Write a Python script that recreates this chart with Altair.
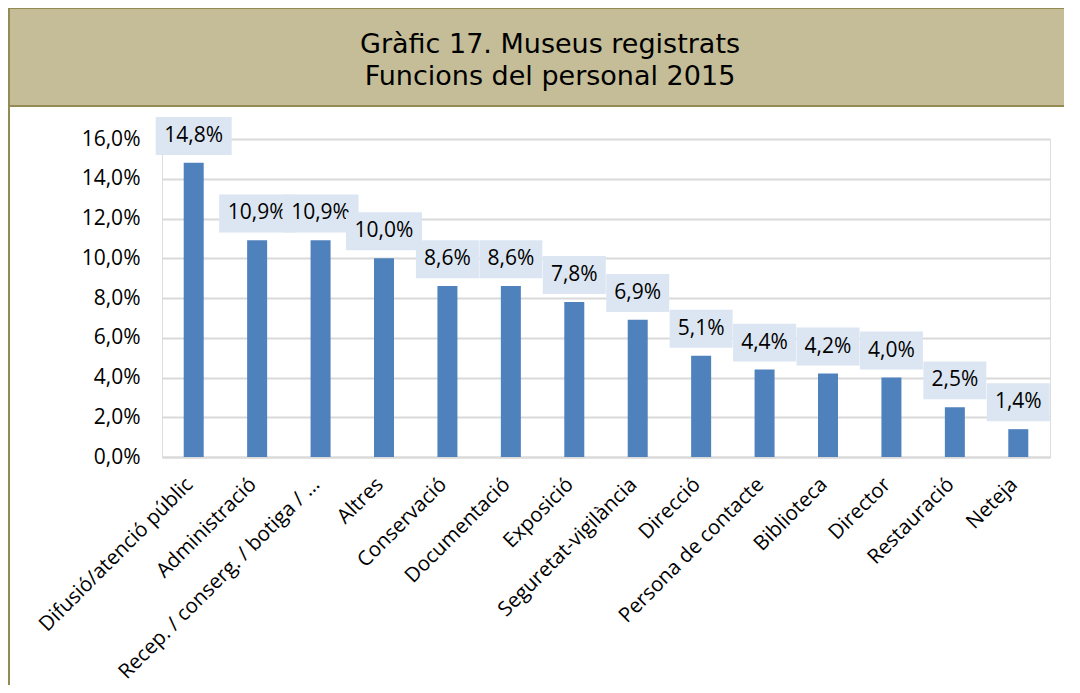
import altair as alt
import pandas as pd

categories = ["Difusió/atenció públic", "Administració", "Recep. / conserg. / botiga / …",
              "Altres", "Conservació", "Documentació", "Exposició", "Seguretat-vigilància",
              "Direcció", "Persona de contacte", "Biblioteca", "Director", "Restauració", "Neteja"]
values = [14.8, 10.9, 10.9, 10.0, 8.6, 8.6, 7.8, 6.9, 5.1, 4.4, 4.2, 4.0, 2.5, 1.4]
title_lines = ["Gràfic 17. Museus registrats", "Funcions del personal 2015"]

df = pd.DataFrame({"cat": categories, "v": values})
df["label"] = [f"{v:.1f}".replace(".", ",") + "%" for v in values]

W, H = 888, 318
FONT = "Open Sans"
FS = 21

xscale = alt.Scale(domain=categories, paddingInner=0, paddingOuter=0)
yscale = alt.Scale(domain=[0, 16], nice=False)

base = alt.Chart(df)

bars = base.mark_bar(size=20, color="#4F81BD").encode(
    x=alt.X("cat:N", sort=categories, title=None, scale=xscale),
    y=alt.Y("v:Q", scale=yscale, title=None),
)

# decorative frame: title band and left border
one = pd.DataFrame({"k": [0]})
band = alt.Chart(one).mark_rect(
    fill="#C4BD97", stroke="#948A54", strokeWidth=2
).encode(x=alt.value(-153), x2=alt.value(W + 60), y=alt.value(-131), y2=alt.value(-33))
left_line = alt.Chart(one).mark_rule(
    color="#948A54", strokeWidth=2
).encode(x=alt.value(-153), y=alt.value(-33), y2=alt.value(H + 240))

tdf = pd.DataFrame({"t": title_lines})
title_layers = []
for i, ypix in enumerate([-94, -62]):
    title_layers.append(
        alt.Chart(tdf).transform_filter(alt.datum.t == title_lines[i]).mark_text(
            font="DejaVu Sans", fontSize=27, color="#000000", align="center", baseline="middle"
        ).encode(x=alt.value(388), y=alt.value(ypix), text="t:N")
    )

layers = [band, left_line, bars]
for c in categories:
    sub = base.transform_filter(alt.datum.cat == c)
    box = sub.transform_calculate(
        lo="datum.v + 0.4", hi="datum.v + 2.31",
        w="length(datum.label) > 4 ? 76 : 63"
    ).mark_bar(color="#DCE6F2").encode(
        x=alt.X("cat:N", sort=categories, scale=xscale, title=None),
        y=alt.Y("lo:Q", scale=yscale, title=None),
        y2="hi:Q",
        size=alt.Size("w:Q", scale=None, legend=None),
    )
    txt = sub.mark_text(font=FONT, fontSize=FS, color="#000000", baseline="middle", dy=-27).encode(
        x=alt.X("cat:N", sort=categories, scale=xscale, title=None),
        y=alt.Y("v:Q", scale=yscale, title=None),
        text="label:N",
    )
    layers += [box, txt]
layers += title_layers

chart = alt.layer(*layers).properties(
    width=W, height=H,
    autosize=alt.AutoSizeParams(type="none"),
    padding={"left": 154, "top": 131, "right": 14, "bottom": 228},
).configure_view(strokeWidth=0).configure(background="#FFFFFF").configure_axisY(
    tickCount=8,
    labelExpr="replace(format(datum.value, '.1f'), '.', ',') + '%'",
    labelFontSize=FS, labelFont=FONT, labelColor="#000000",
    labelPadding=22, ticks=False, domain=False, labelOverlap=False,
    gridColor="#D9D9D9", gridWidth=2,
).configure_axisX(
    labelAngle=-45, labelFontSize=20.5, labelFont=FONT, labelColor="#000000",
    labelPadding=17, labelOffset=-11, ticks=False, domain=True,
    domainColor="#D9D9D9", domainWidth=2, labelLimit=400,
    labelOverlap=False, grid=False,
)

chart.save("out.html", embed_options={"renderer": "svg", "actions": False})
